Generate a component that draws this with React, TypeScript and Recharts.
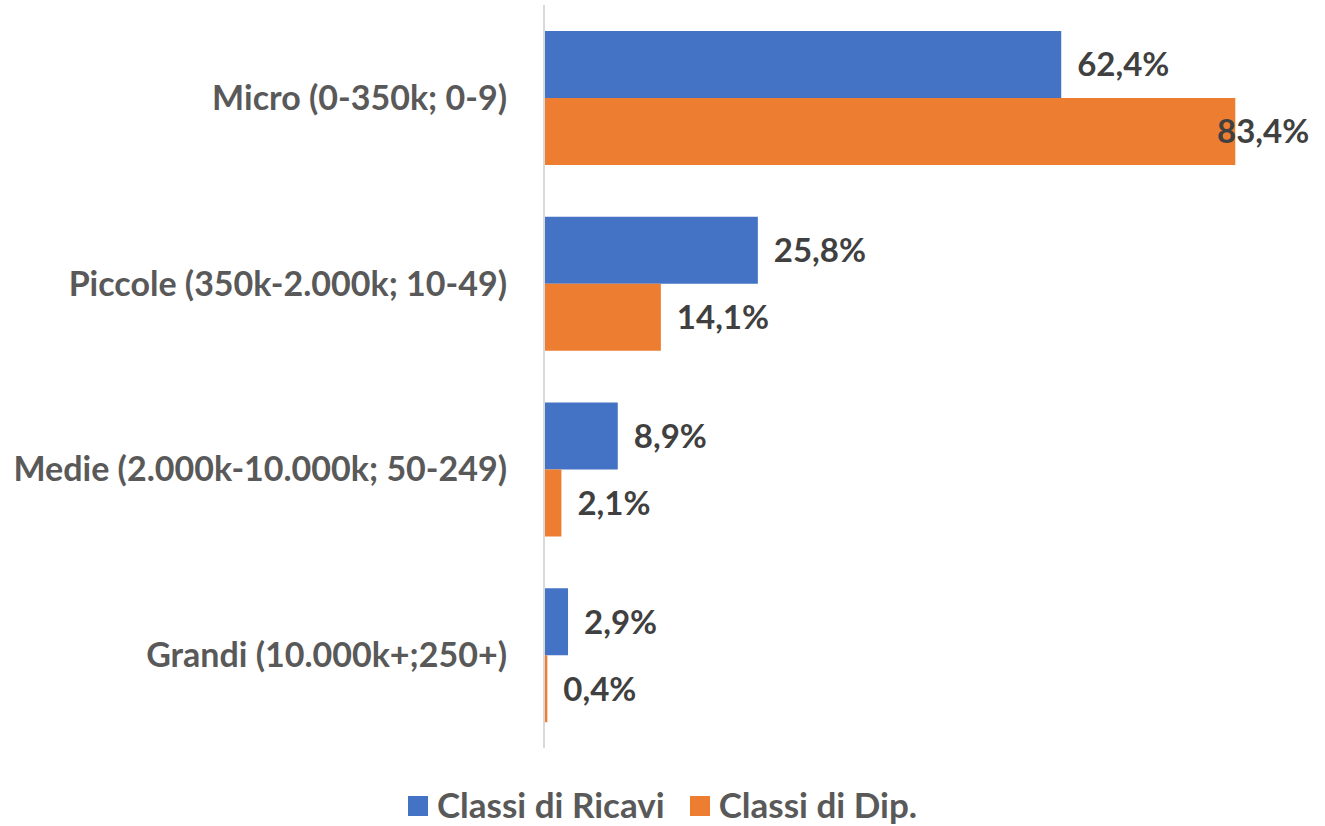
import { BarChart, Bar, XAxis, YAxis, LabelList } from 'recharts'

// Distribuzione imprese per classe dimensionale
const categories = [
  'Micro (0-350k; 0-9)',
  'Piccole (350k-2.000k; 10-49)',
  'Medie (2.000k-10.000k; 50-249)',
  'Grandi (10.000k+;250+)',
]
const ricavi = [62.4, 25.8, 8.9, 2.9]
const dipendenti = [83.4, 14.1, 2.1, 0.4]

const SERIES = [
  { key: 'ricavi', label: 'Classi di Ricavi', color: '#4472C4' },
  { key: 'dip', label: 'Classi di Dip.', color: '#ED7D31' },
]

const FONT = 'Lato, "Open Sans", sans-serif'
const W = 1325
const H = 826

const data = categories.map((name, i) => ({ name, ricavi: ricavi[i], dip: dipendenti[i] }))

const fmt = (v: number) => `${v.toFixed(1).replace('.', ',')}%`

function ValueLabel({ x, y, width, height, value }: any) {
  const textW = 93
  let tx = x + width + 16
  if (tx + textW > W - 15) tx = W - 15 - textW
  return (
    <text x={tx} y={y + height / 2} dy="0.36em" fill="#404040"
      style={{ fontFamily: FONT, fontSize: 33, fontWeight: 700 }}>
      {fmt(value)}
    </text>
  )
}

function LegendBox() {
  return (
    <div style={{
      position: 'absolute', left: 0, top: 784, width: W,
      display: 'flex', justifyContent: 'center', alignItems: 'center', gap: 25, fontFamily: FONT,
    }}>
      {SERIES.map(s => (
        <div key={s.key} style={{ display: 'flex', alignItems: 'center', gap: 9 }}>
          <span style={{ width: 20, height: 20, background: s.color, display: 'inline-block', marginTop: 4 }} />
          <span style={{ fontSize: 35, fontWeight: 700, color: '#595959', lineHeight: '40px' }}>{s.label}</span>
        </div>
      ))}
    </div>
  )
}

export default function App() {
  return (
    <div style={{ position: 'absolute', left: 0, top: 0, width: W, height: H, background: '#fff', overflow: 'hidden' }}>
      <BarChart width={W} height={H} data={data} layout="vertical"
        margin={{ top: 5, right: 35, left: 0, bottom: 78 }}
        barSize={67} barGap={0}>
        <XAxis type="number" domain={[0, 90]} hide />
        <YAxis type="category" dataKey="name" width={544}
          axisLine={{ stroke: '#d9d9d9', strokeWidth: 2 }} tickLine={false}
          tickSize={0} tickMargin={37}
          tick={{ fill: '#595959', fontSize: 34, fontWeight: 700, fontFamily: FONT }} />
        {SERIES.map(s => (
          <Bar key={s.key} dataKey={s.key} fill={s.color} isAnimationActive={false}>
            <LabelList dataKey={s.key} content={<ValueLabel />} />
          </Bar>
        ))}
      </BarChart>
      <LegendBox />
    </div>
  )
}
